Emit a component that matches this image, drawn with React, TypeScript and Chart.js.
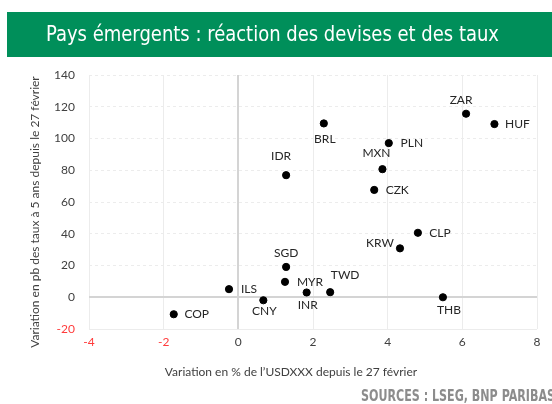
import React, { useEffect, useRef } from "react";
import { Chart, registerables } from "chart.js";

Chart.register(...registerables);

const currencies = ["COP", "ILS", "CNY", "SGD", "MYR", "INR", "TWD", "KRW", "BRL", "IDR", "MXN", "PLN", "CZK", "ZAR", "HUF", "CLP", "THB"];
const fxChange = [-1.73, -0.25, 0.67, 1.28, 1.25, 1.83, 2.46, 4.33, 2.29, 1.28, 3.86, 4.03, 3.64, 6.10, 6.86, 4.81, 5.48];
const rateChange = [-10.7, 5.1, -1.9, 19.1, 9.7, 3.0, 3.2, 30.8, 109.5, 76.9, 80.7, 97.1, 67.6, 115.6, 109.1, 40.6, 0];

// label placement (dx, dy in px from the point, text centred)
const labelOffsets: [number, number][] = [
  [23, 0], [20, 0], [1, 11], [0, -14], [25, 0], [1, 13], [15, -17], [-20, -5],
  [1, 16], [-5, -19], [-6, -16], [23, 0], [23, 0], [-5, -14], [23, 0], [22, 0], [6, 13],
];

const titleText = "Pays émergents : réaction des devises et des taux";
const xTitle = "Variation en % de l\u2019USDXXX depuis le 27 février";
const yTitle = "Variation en pb des taux à 5 ans depuis le 27 février";
const sourceText = "SOURCES : LSEG, BNP PARIBAS";

const NARROW = "'DejaVu Sans Condensed', 'Open Sans', sans-serif";
const TICKFONT = "Lato, 'Open Sans', sans-serif";

const decorPlugin = {
  id: "decor",
  beforeDraw(chart: any) {
    const ctx = chart.ctx;
    ctx.save();
    ctx.fillStyle = "#ffffff";
    ctx.fillRect(0, 0, chart.width, chart.height);
    ctx.fillStyle = "#008F5A";
    ctx.fillRect(7, 12, chart.width - 7, 45);
    ctx.fillStyle = "#ffffff";
    ctx.font = `22px ${NARROW}`;
    ctx.textBaseline = "middle";
    ctx.textAlign = "left";
    ctx.fillText(titleText, 46, 35, 453);
    ctx.restore();
  },
  afterDraw(chart: any) {
    const ctx = chart.ctx;
    ctx.save();
    ctx.fillStyle = "#404040";
    ctx.font = `12px ${TICKFONT}`;
    ctx.textAlign = "center";
    ctx.textBaseline = "middle";
    ctx.fillText(xTitle, 291, 372);
    ctx.save();
    ctx.translate(35, 212);
    ctx.rotate(-Math.PI / 2);
    ctx.fillText(yTitle, 0, 0);
    ctx.restore();
    ctx.fillStyle = "#8c8c8c";
    ctx.font = `bold 15px ${NARROW}`;
    ctx.textAlign = "left";
    ctx.fillText(sourceText, 361, 397, 194);
    ctx.restore();
  },
  afterDatasetsDraw(chart: any) {
    const ctx = chart.ctx;
    const meta = chart.getDatasetMeta(0);
    ctx.save();
    ctx.fillStyle = "#262626";
    ctx.font = `12px ${TICKFONT}`;
    ctx.textAlign = "center";
    ctx.textBaseline = "middle";
    meta.data.forEach((el: any, i: number) => {
      const [dx, dy] = labelOffsets[i];
      ctx.fillText(currencies[i], el.x + dx, el.y + dy);
    });
    ctx.restore();
  },
};

export default function App() {
  const ref = useRef<HTMLCanvasElement | null>(null);
  useEffect(() => {
    if (!ref.current) return;
    const chart = new Chart(ref.current, {
      type: "scatter",
      data: {
        datasets: [
          {
            data: fxChange.map((x, i) => ({ x, y: rateChange[i] })),
            backgroundColor: "#000000",
            borderColor: "#000000",
            pointRadius: 3.6,
            pointHoverRadius: 3.6,
          },
        ],
      },
      options: {
        animation: false,
        responsive: true,
        maintainAspectRatio: false,
        layout: { padding: { top: 75, right: 15, left: 0, bottom: 0 } },
        plugins: { legend: { display: false }, tooltip: { enabled: false } },
        scales: {
          x: {
            type: "linear",
            min: -4,
            max: 8,
            afterFit: (s: any) => { s.height = 75; },
            ticks: {
              stepSize: 2,
              padding: 6,
              font: { family: TICKFONT, size: 12 },
              color: (c: any) => (c.tick && c.tick.value < 0 ? "#ff3b3b" : "#404040"),
            },
            grid: {
              drawTicks: false,
              color: (c: any) => (c.tick && c.tick.value === 0 ? "#d4d4d4" : "#ececec"),
              lineWidth: (c: any) => (c.tick && c.tick.value === 0 ? 2 : 1),
            },
            border: { display: false },
          },
          y: {
            type: "linear",
            min: -20,
            max: 140,
            afterFit: (s: any) => { s.width = 89; },
            ticks: {
              stepSize: 20,
              padding: 14,
              font: { family: TICKFONT, size: 12 },
              color: (c: any) => (c.tick && c.tick.value < 0 ? "#ff3b3b" : "#404040"),
            },
            grid: {
              drawTicks: false,
              color: (c: any) => (c.tick && c.tick.value === 0 ? "#d4d4d4" : "#ececec"),
              lineWidth: (c: any) => (c.tick && c.tick.value === 0 ? 2 : 1),
            },
            border: {
              display: false,
              dash: (c: any) => (c.tick && (c.tick.value === 0 || c.tick.value === -20) ? [] : [3, 3]),
            },
          },
        },
      },
      plugins: [decorPlugin],
    });
    return () => chart.destroy();
  }, []);
  return (
    <div style={{ position: "fixed", left: 0, top: 0, width: 552, height: 404, background: "#fff" }}>
      <canvas ref={ref} />
    </div>
  );
}
